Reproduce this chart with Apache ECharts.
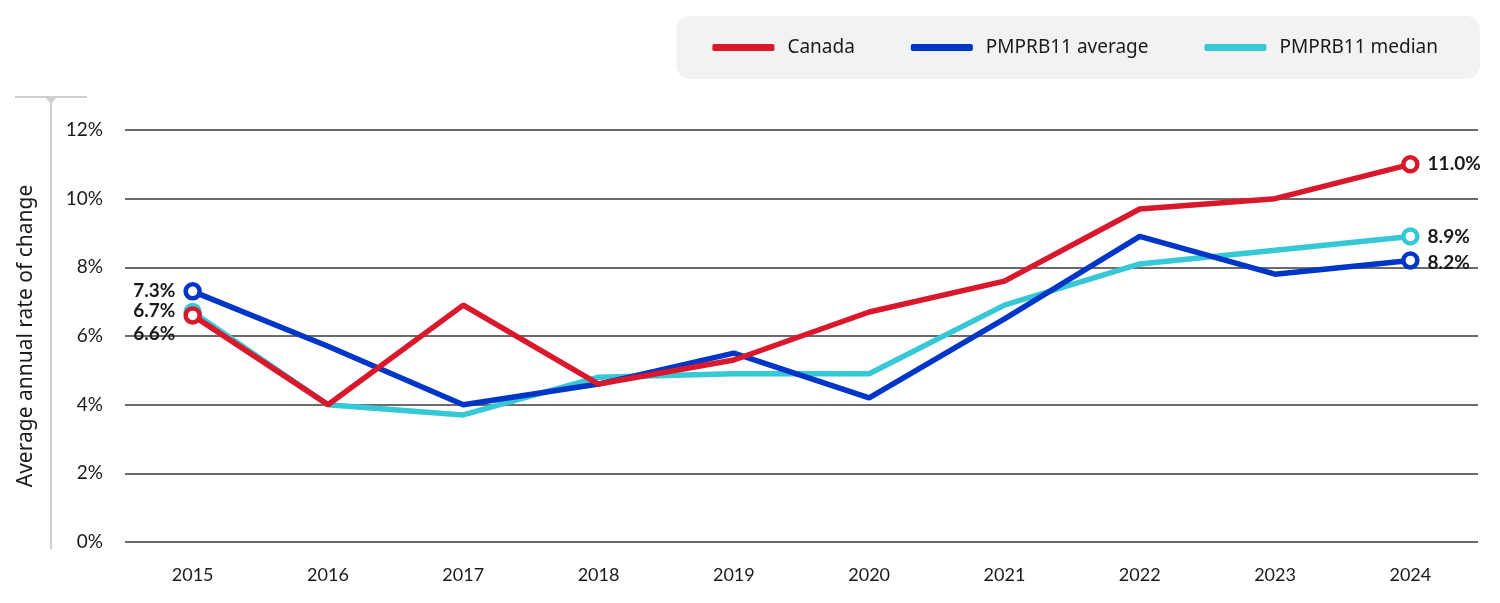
<!DOCTYPE html>
<html><head><meta charset="utf-8">
<script src="https://cdn.jsdelivr.net/npm/echarts@6/dist/echarts.min.js"></script>
<style>html,body{margin:0;padding:0;background:#fff}#c{width:1500px;height:603px}</style>
</head><body><div id="c"></div>
<script>
const years = ['2015','2016','2017','2018','2019','2020','2021','2022','2023','2024'];
const canada = [6.6, 4.0, 6.9, 4.6, 5.3, 6.7, 7.6, 9.7, 10.0, 11.0];
const pmAverage = [7.3, 5.7, 4.0, 4.6, 5.5, 4.2, 6.5, 8.9, 7.8, 8.2];
const pmMedian = [6.7, 4.0, 3.7, 4.8, 4.9, 4.9, 6.9, 8.1, 8.5, 8.9];
const yTicks = [0, 2, 4, 6, 8, 10, 12];

const FONT = 'Lato, "Noto Sans", sans-serif';
const WFONT = '"Noto Sans", Lato, sans-serif';
const COLORS = {canada: '#d9182b', avg: '#0036c8', med: '#37c8d6'};
const chart = echarts.init(document.getElementById('c'), null, {renderer: 'canvas'});

function mk(name, vals, color, z, leftOff, rightOff) {
  const last = vals.length - 1;
  return {
    name, type: 'line', z, color, symbol: 'circle', symbolSize: 14,
    lineStyle: {width: 5.5, color},
    itemStyle: {color: '#ffffff', borderWidth: 4.5, borderColor: color},
    data: vals.map((v, i) => {
      const show = i === 0 || i === last;
      return {
        value: v,
        symbol: show ? 'circle' : 'none',
        label: {
          show,
          position: i === 0 ? 'left' : 'right',
          offset: i === 0 ? leftOff : rightOff,
          distance: 8,
          formatter: p => p.value.toFixed(1) + '%',
          fontFamily: FONT, fontWeight: 'bold', fontSize: 19, color: '#1a1a1a'
        }
      };
    })
  };
}

chart.setOption({
  animation: false,
  textStyle: {fontFamily: FONT},
  legend: {
    data: [
      {name: 'Canada', itemStyle: {color: COLORS.canada, borderWidth: 0}},
      {name: 'PMPRB11 average', itemStyle: {color: COLORS.avg, borderWidth: 0}},
      {name: 'PMPRB11 median', itemStyle: {color: COLORS.med, borderWidth: 0}}
    ],
    right: 20, top: 16,
    backgroundColor: '#f2f2f2', borderRadius: 14,
    padding: [22, 42, 22, 36],
    itemWidth: 62, itemHeight: 7, itemGap: 56,
    icon: 'roundRect',
    textStyle: {fontSize: 19, color: '#1a1a1a', fontFamily: WFONT, padding: [0, 0, 0, 8]}
  },
  grid: {left: 125, right: 22, top: 130, bottom: 61},
  xAxis: {
    type: 'category', data: years, boundaryGap: true,
    axisLine: {show: false}, axisTick: {show: false},
    axisLabel: {fontSize: 18, color: '#1a1a1a', margin: 24, fontFamily: FONT}
  },
  yAxis: {
    type: 'value', min: yTicks[0], max: yTicks[yTicks.length - 1], interval: 2,
    name: 'Average annual rate of change', nameLocation: 'middle', nameGap: 88,
    nameTextStyle: {fontSize: 21, color: '#1a1a1a', fontFamily: WFONT},
    axisLine: {show: false}, axisTick: {show: false},
    axisLabel: {fontSize: 19, color: '#1a1a1a', margin: 22, formatter: v => v + '%', fontFamily: FONT},
    splitLine: {lineStyle: {color: '#3a3a3a', width: 1.5}}
  },
  graphic: [
    {type: 'line', shape: {x1: 51, y1: 97, x2: 51, y2: 549}, style: {stroke: '#cfcfcf', lineWidth: 2}},
    {type: 'line', shape: {x1: 15, y1: 97, x2: 87, y2: 97}, style: {stroke: '#cfcfcf', lineWidth: 2}},
    {type: 'polygon', shape: {points: [[45, 97], [57, 97], [51, 104]]}, style: {fill: '#cfcfcf'}}
  ],
  series: [
    mk('Canada', canada, COLORS.canada, 5, [0, 18], [0, 0]),
    mk('PMPRB11 average', pmAverage, COLORS.avg, 4, [0, 0], [0, 2]),
    mk('PMPRB11 median', pmMedian, COLORS.med, 3, [0, -1], [0, 0])
  ]
});
</script></body></html>
